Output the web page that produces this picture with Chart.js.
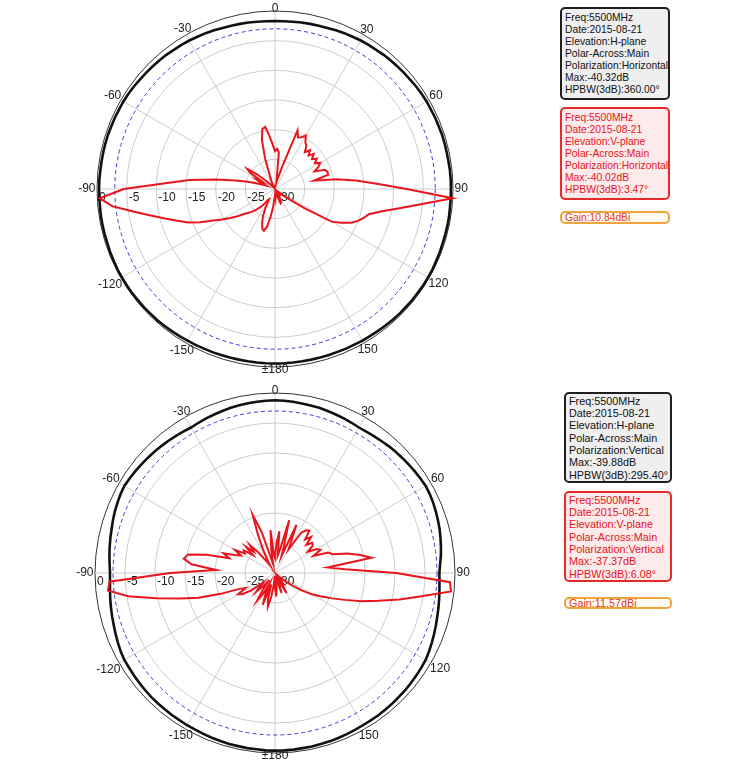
<!DOCTYPE html>
<html>
<head>
<meta charset="utf-8">
<script src="https://cdn.jsdelivr.net/npm/chart.js@4.4.1/dist/chart.umd.min.js"></script>
<style>
html,body{margin:0;padding:0;background:#fff;width:750px;height:764px;overflow:hidden;font-family:"Liberation Sans",Arial,sans-serif;}
canvas{position:absolute;left:0;}
#c1{top:0;}
#c2{top:380px;}
.box{position:absolute;box-sizing:border-box;border-radius:5px;white-space:nowrap;overflow:hidden;}
</style>
</head>
<body>
<canvas id="c1" width="550" height="380"></canvas>
<canvas id="c2" width="550" height="384"></canvas>
<div id="legends"></div>
<script>
// ---------- data ----------
const ANGLE_STEP = 3;                       // degrees between samples
const ANGLES = Array.from({length: 360 / ANGLE_STEP}, (_, i) => i * ANGLE_STEP);
const RING_MIN = -30, RING_MAX = 0, RING_STEP = 5;
const HALF_POWER_DB = -3;

// Chart 1 (Polarization: Horizontal) – H-plane (black)
const topHPlane = [
  -1.7,-1.7,-1.65,-1.6,-1.55, -1.5,-1.45,-1.35,-1.25,-1.2,
  -1.1,-1.05,-1.0,-0.9,-0.85, -0.8,-0.75,-0.7,-0.6,-0.55,
  -0.5,-0.5,-0.45,-0.45,-0.4, -0.4,-0.4,-0.4,-0.35,-0.35,
  -0.35,-0.35,-0.35,-0.3,-0.3, -0.3,-0.3,-0.25,-0.25,-0.2,
  -0.2,-0.2,-0.25,-0.25,-0.3, -0.3,-0.35,-0.4,-0.45,-0.5,
  -0.5,-0.55,-0.55,-0.6,-0.6, -0.6,-0.6,-0.6,-0.6,-0.6,
  -0.6,-0.6,-0.6,-0.6,-0.6, -0.6,-0.6,-0.55,-0.55,-0.5,
  -0.5,-0.45,-0.4,-0.35,-0.3, -0.3,-0.25,-0.25,-0.2,-0.2,
  -0.2,-0.2,-0.25,-0.25,-0.3, -0.3,-0.3,-0.3,-0.35,-0.35,
  -0.35,-0.35,-0.4,-0.4,-0.4, -0.4,-0.4,-0.45,-0.45,-0.5,
  -0.5,-0.55,-0.6,-0.7,-0.75, -0.8,-0.85,-0.9,-1.0,-1.05,
  -1.1,-1.2,-1.25,-1.35,-1.45, -1.5,-1.55,-1.6,-1.65,-1.7
];
// Chart 1 – V-plane (red)
const topVPlane = [
  -23.6,-23.2,-23.8,-28,-29,-28,-26,-19.4,-20.5,-20.2,
  -19.6,-20.6,-21,-22,-21.2,-22,-21.2,-22,-21.3,-22,
  -21.2,-21.8,-22.7,-21,-20.7,-20.7,-23.3,-19.6,-16.3,-12.8,
  -7.8,0,-5.3,-9,-11.8,-13.6,-14.3,-15,-16,-17.5,
  -19,-24,-27,-28.5,-29.5,-29,-29.5,-29,-28.5,-29.5,
  -29,-28,-27.5,-27.4,-28.5,-29.5,-29,-29.5,-29,-28.5,
  -29,-28.5,-27,-25.3,-23.5,-22.7,-23,-24,-25,-26.5,
  -28,-27.8,-26.8,-26,-25.3,-24.6,-24,-23.3,-22.2,-21,
  -19.7,-18.3,-16.2,-14.3,-12.7,-10.8,-8.6,-5.8,-2.4,-0.4,
  -4.5,-11.5,-15.5,-19.8,-23.2,-25.3,-27.3,-28.3,-27.3,-26.5,
  -27.5,-25,-24.2,-26,-28,-29,-29.5,-29,-29.5,-29,
  -29.5,-29,-28.5,-27.5,-24.6,-21.5,-19.7,-19.4,-21,-22.5
];
// Chart 2 (Polarization: Vertical) – H-plane (black)
const botHPlane = [
  -1.2,-1.25,-1.3,-1.4,-1.45, -1.5,-1.6,-1.7,-1.8,-1.9,
  -2.0,-1.95,-1.85,-1.75,-1.6, -1.5,-1.4,-1.3,-1.2,-1.1,
  -1.0,-1.05,-1.15,-1.3,-1.45, -1.6,-1.8,-2.0,-2.2,-2.45,
  -2.6,-2.55,-2.45,-2.3,-2.15, -2.0,-1.8,-1.6,-1.4,-1.2,
  -1.0,-0.95,-0.9,-0.85,-0.8, -0.8,-0.75,-0.75,-0.7,-0.7,
  -0.7,-0.65,-0.6,-0.55,-0.5, -0.5,-0.45,-0.45,-0.4,-0.4,
  -0.4,-0.4,-0.45,-0.45,-0.5, -0.5,-0.55,-0.6,-0.65,-0.7,
  -0.7,-0.75,-0.75,-0.8,-0.8, -0.8,-0.85,-0.9,-0.95,-1.0,
  -1.0,-1.15,-1.35,-1.55,-1.75, -1.9,-2.05,-2.2,-2.35,-2.45,
  -2.5,-2.4,-2.25,-2.1,-1.95, -1.8,-1.6,-1.4,-1.25,-1.1,
  -1.0,-1.1,-1.2,-1.3,-1.4, -1.5,-1.6,-1.7,-1.8,-1.9,
  -2.0,-1.9,-1.8,-1.7,-1.6, -1.5,-1.4,-1.35,-1.3,-1.25
];
// Chart 2 – V-plane (red)
const botVPlane = [
  -27.5,-25,-23,-27,-26,-20.9,-25,-27,-21.2,-24,
  -25.5,-22,-21.2,-20.9,-22.5,-21.5,-23,-22,-22.2,-23.5,
  -22,-21.5,-23,-20.5,-19.9,-17.5,-15.5,-13.7,-21.2,-18.3,
  -9.8,-0.8,-0.5,-5.3,-8.8,-12.2,-14.8,-17.5,-19.6,-21.5,
  -22.9,-24.6,-26.5,-28,-29,-29.5,-29,-28.5,-29,-28,
  -26.1,-28.5,-29,-28,-26.5,-28.5,-29.5,-29,-27.5,-26.1,
  -27.5,-29.5,-28,-26,-24.3,-25.5,-28,-24.3,-26,-28,
  -26,-24.5,-26.5,-28.5,-27,-25.5,-26.5,-27.5,-25,-23.5,
  -22.9,-24.5,-23.5,-20.3,-16.6,-13.6,-9.8,-5.2,-2.0,-2.4,
  -12.5,-20.2,-16,-14.6,-15.2,-18.2,-22,-20.8,-22.6,-23.6,
  -22.3,-24,-23.6,-25.3,-23.5,-25,-23.7,-25.6,-27.5,-28.5,
  -27.5,-25.5,-23,-19.6,-22.8,-27.5,-28.5,-26,-22.8,-27
];

// legend texts
const topLegendH = ["Freq:5500MHz","Date:2015-08-21","Elevation:H-plane","Polar-Across:Main","Polarization:Horizontal","Max:-40.32dB","HPBW(3dB):360.00°"];
const topLegendV = ["Freq:5500MHz","Date:2015-08-21","Elevation:V-plane","Polar-Across:Main","Polarization:Horizontal","Max:-40.02dB","HPBW(3dB):3.47°"];
const topGain = "Gain:10.84dBi";
const botLegendH = ["Freq:5500MHz","Date:2015-08-21","Elevation:H-plane","Polar-Across:Main","Polarization:Vertical","Max:-39.88dB","HPBW(3dB):295.40°"];
const botLegendV = ["Freq:5500MHz","Date:2015-08-21","Elevation:V-plane","Polar-Across:Main","Polarization:Vertical","Max:-37.37dB","HPBW(3dB):6.08°"];
const botGain = "Gain:11.57dBi";

// ---------- drawing ----------
function angleText(a) {
  if (a === 0) return '0';
  if (a === 180) return '\u00B1180';
  return a > 180 ? String(a - 360) : String(a);
}

const polarDecor = {
  id: 'polarDecor',
  beforeDatasetsDraw(chart) {
    const s = chart.scales.r, ctx = chart.ctx;
    const cx = s.xCenter, cy = s.yCenter, R = s.drawingArea;
    ctx.save();
    // half-power (-3 dB) reference ring
    ctx.beginPath();
    ctx.setLineDash([4, 3]);
    ctx.strokeStyle = '#3b3bd9';
    ctx.lineWidth = 1;
    ctx.arc(cx, cy, s.getDistanceFromCenterForValue(HALF_POWER_DB), 0, Math.PI * 2);
    ctx.stroke();
    ctx.setLineDash([]);
    // ring value labels along the left horizontal axis
    ctx.font = '12px "Liberation Sans", Arial, sans-serif';
    ctx.fillStyle = '#222';
    ctx.textAlign = 'left';
    ctx.textBaseline = 'top';
    s.ticks.forEach(t => {
      const d = s.getDistanceFromCenterForValue(t.value);
      ctx.fillText(t.label, cx - d + 2, cy + 3);
    });
    // angle labels every 30 degrees
    ctx.textAlign = 'center';
    ctx.textBaseline = 'middle';
    ANGLES.forEach((a, i) => {
      if (a % 30) return;
      const txt = angleText(a);
      const w = ctx.measureText(txt).width;
      const th = a * Math.PI / 180;
      const off = 1.5 + 0.5 * w * Math.abs(Math.sin(th)) + 1 * Math.abs(Math.cos(th));
      const p = s.getPointPosition(i, R + off);
      ctx.fillText(txt, p.x, p.y);
    });
    ctx.restore();
  }
};

function makeChart(id, hData, vData, pad) {
  return new Chart(document.getElementById(id), {
    type: 'radar',
    data: {
      labels: ANGLES,
      datasets: [
        { label: 'V-plane', data: vData, borderColor: '#e8161c', borderWidth: 2, fill: false, pointRadius: 0 },
        { label: 'H-plane', data: hData, borderColor: '#111111', borderWidth: 2.6, fill: false, pointRadius: 0 }
      ]
    },
    options: {
      responsive: false,
      animation: false,
      layout: { padding: pad },
      elements: { line: { tension: 0 }, point: { radius: 0, hitRadius: 0 } },
      plugins: { legend: { display: false }, tooltip: { enabled: false } },
      scales: {
        r: {
          min: RING_MIN, max: RING_MAX,
          startAngle: 0,
          ticks: { display: false, stepSize: RING_STEP },
          grid: {
            circular: true,
            color: c => (c.tick && c.tick.value === RING_MAX) ? '#333333' : '#cdcdcd',
            lineWidth: 1
          },
          angleLines: {
            display: true,
            color: c => (ANGLES[c.index] % 30 === 0) ? '#cdcdcd' : 'rgba(0,0,0,0)',
            lineWidth: c => (ANGLES[c.index] % 30 === 0) ? 1 : 0
          },
          pointLabels: { display: false }
        }
      }
    },
    plugins: [polarDecor]
  });
}

makeChart('c1', topHPlane, topVPlane, { left: 97, right: 97, top: 11, bottom: 13 });
makeChart('c2', botHPlane, botVPlane, { left: 95, right: 95, top: 13, bottom: 11 });

// ---------- legend boxes ----------
function addBox(lines, st, lh) {
  const d = document.createElement('div');
  d.className = 'box';
  Object.assign(d.style, st);
  lines.forEach(l => {
    const r = document.createElement('div');
    r.textContent = l;
    r.style.height = lh + 'px';
    r.style.lineHeight = lh + 'px';
    d.appendChild(r);
  });
  document.getElementById('legends').appendChild(d);
}
const grayBox = { border: '2px solid #1f1f1f', background: '#efefef', color: '#111' };
const redBox = { border: '2px solid #e52a2a', background: '#fdeaea', color: '#e8141c' };
const gainBox = { border: '2px solid #f0a43c', background: '#fffaf2', color: '#e23b1a' };

function legendSet(hLines, vLines, gain, g) {
  const common = { left: g.x + 'px', width: g.w + 'px', fontSize: g.fs + 'px', paddingLeft: '3px' };
  addBox(hLines, Object.assign({}, grayBox, common, { top: g.y1 + 'px', height: g.h + 'px', paddingTop: g.pt + 'px' }), g.lh);
  addBox(vLines, Object.assign({}, redBox, common, { top: g.y2 + 'px', height: g.h + 'px', paddingTop: g.pt + 'px' }), g.lh);
  addBox([gain], Object.assign({}, gainBox, common, { top: g.y3 + 'px', height: g.gh + 'px', paddingTop: '0px' }), g.gh - 4);
}
legendSet(topLegendH, topLegendV, topGain, { x: 560, w: 110, y1: 7, y2: 107, y3: 211, h: 93, gh: 13, fs: 10.3, lh: 12, pt: 3 });
legendSet(botLegendH, botLegendV, botGain, { x: 564, w: 108, y1: 392, y2: 491, y3: 597, h: 91, gh: 12, fs: 10.8, lh: 12.4, pt: 0.5 });
</script>
</body>
</html>
